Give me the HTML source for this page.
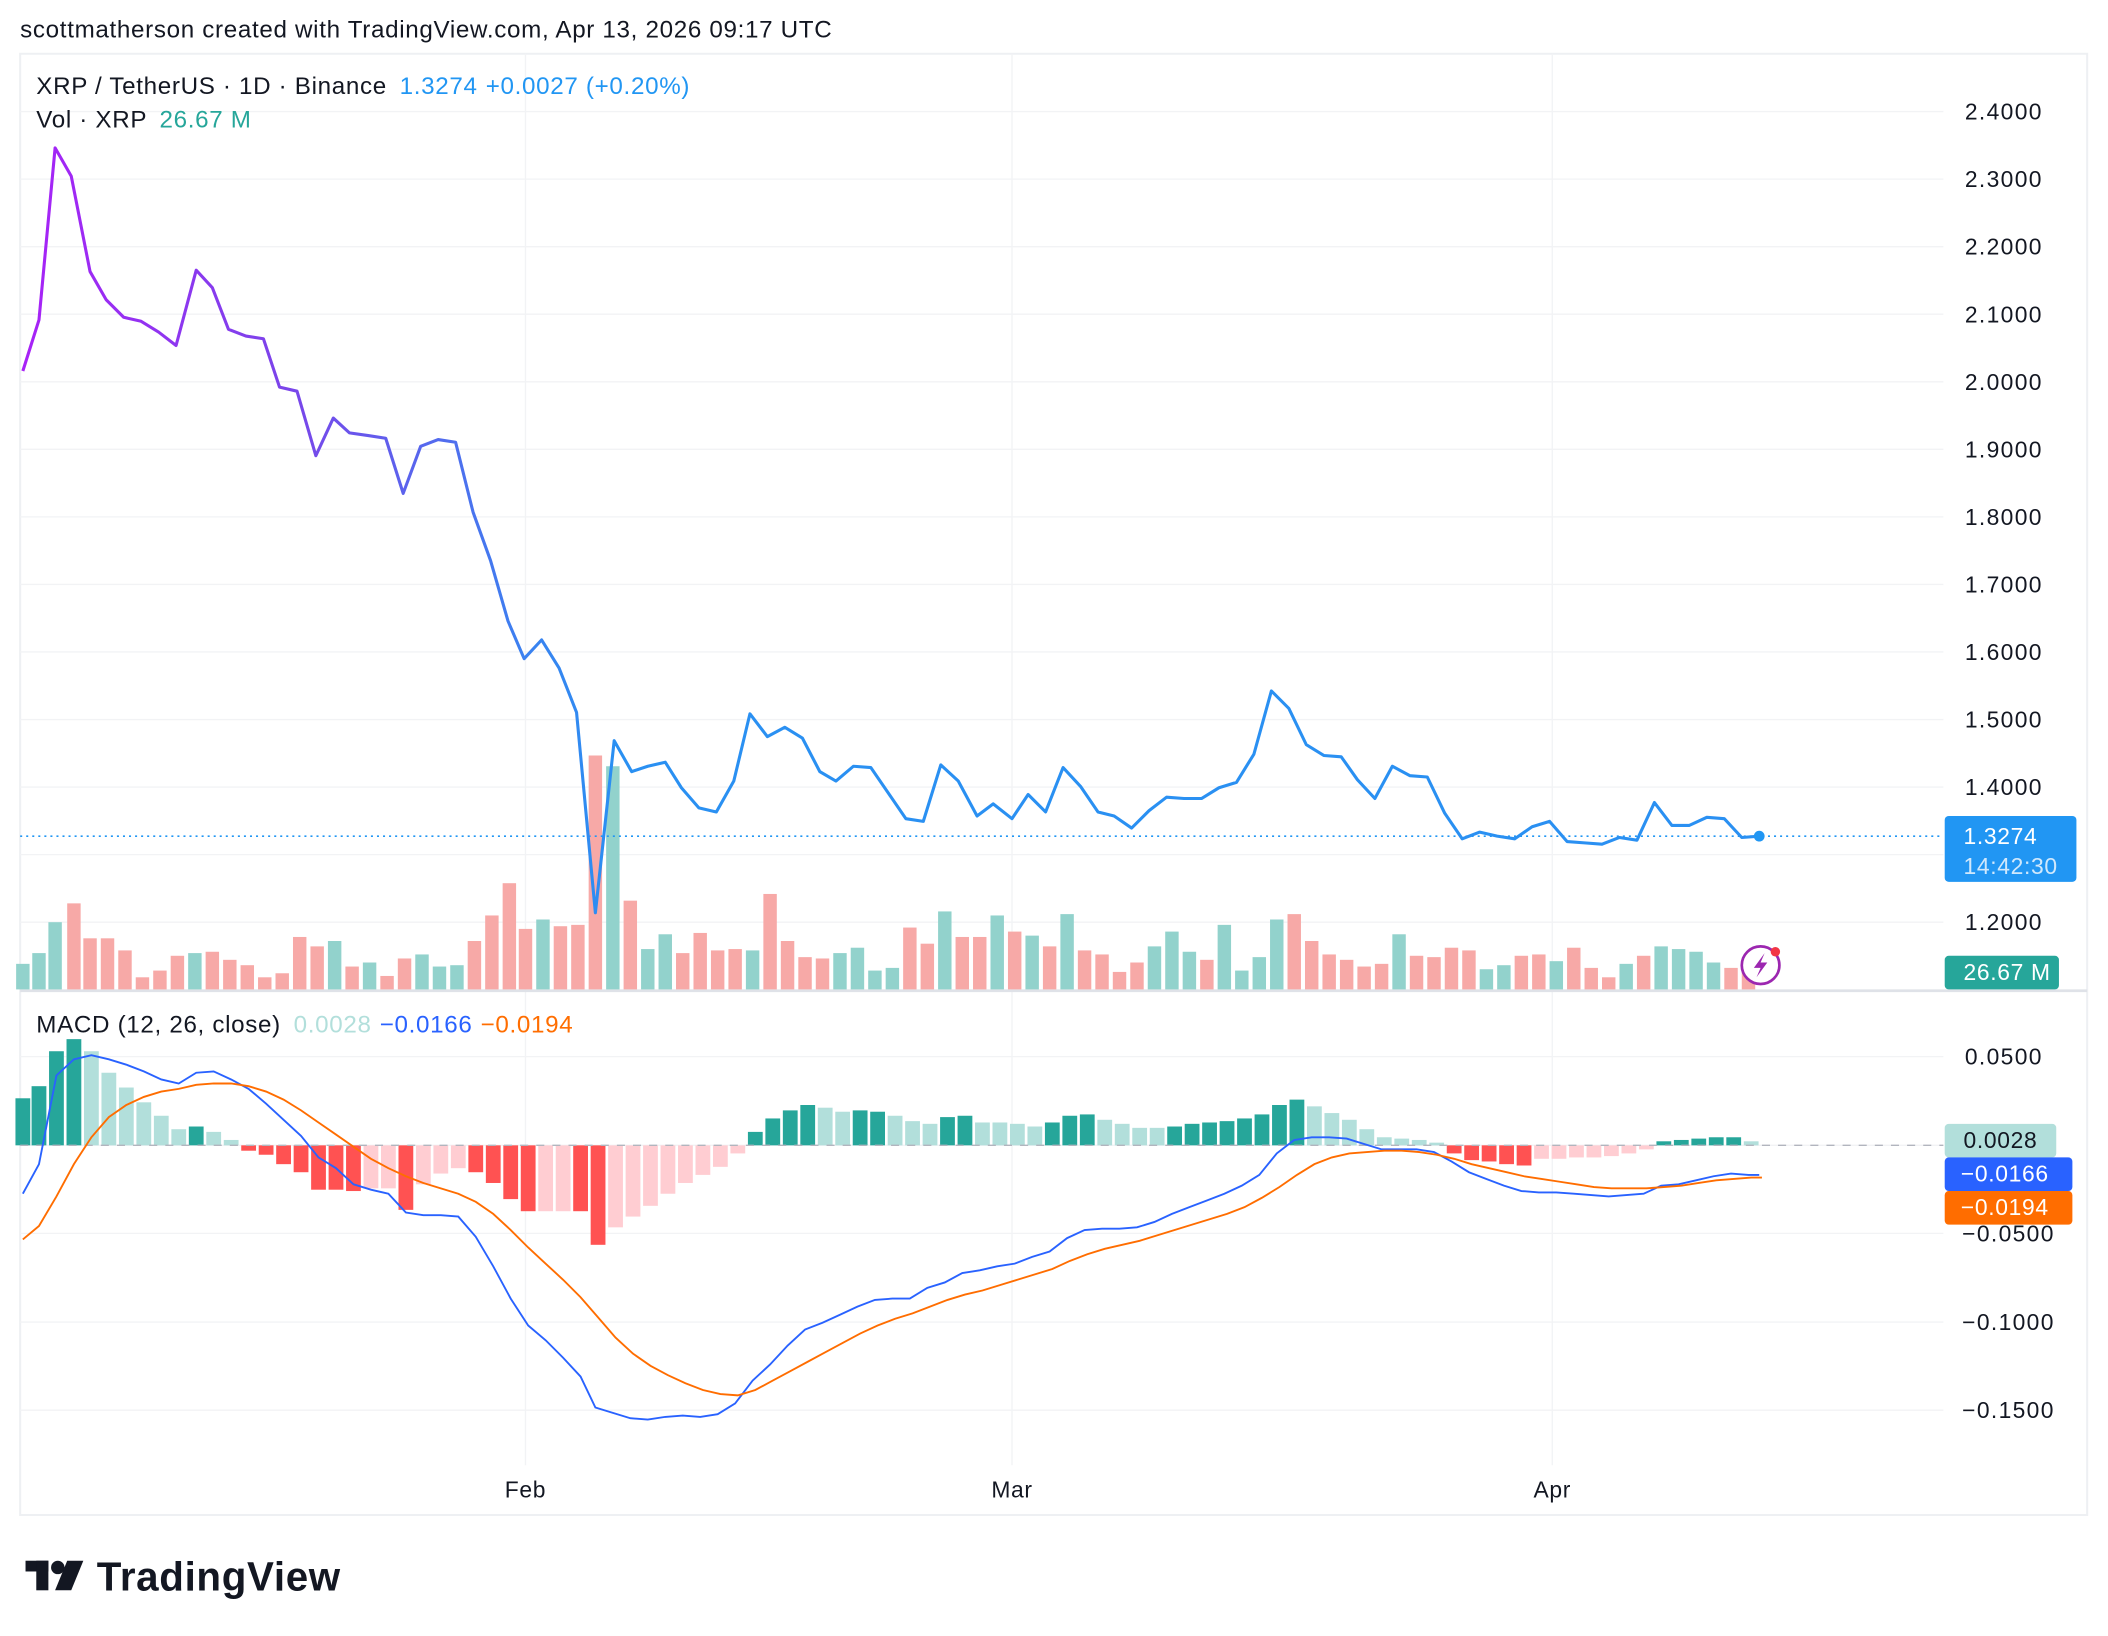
<!DOCTYPE html>
<html><head><meta charset="utf-8"><style>
html,body{margin:0;padding:0;background:#fff;}
svg{display:block;font-family:"Liberation Sans",sans-serif;}
text{letter-spacing:0.5px;}
#axis text{letter-spacing:1px;}
</style></head><body>
<svg id="s" width="2108" height="1636" viewBox="0 0 1568.5 1217" preserveAspectRatio="none" xmlns="http://www.w3.org/2000/svg">
<defs>
<linearGradient id="pg" gradientUnits="userSpaceOnUse" x1="17" y1="0" x2="460" y2="0">
<stop offset="0" stop-color="#a822f7"/><stop offset="0.45" stop-color="#7a45ea"/><stop offset="0.85" stop-color="#3a82f0"/><stop offset="1" stop-color="#2a90f2"/>
</linearGradient>
</defs>
<rect width="1568.5" height="1217" fill="#fff"/>
<text x="15" y="28" font-size="18" fill="#131722">scottmatherson created with TradingView.com, Apr 13, 2026 09:17 UTC</text>
<rect x="15" y="40" width="1538" height="1087" fill="none" stroke="#eef0f3" stroke-width="1.5"/>
<g id="grid" stroke="#f2f3f5" stroke-width="1"></g>
<line x1="15" y1="737" x2="1553" y2="737" stroke="#dfe2e8" stroke-width="2"/>
<g id="vol"></g>
<g id="hist"></g>
<line x1="15" y1="852" x2="1446" y2="852" stroke="#b2b5be" stroke-width="1" stroke-dasharray="6,6"/>
<line x1="15" y1="622" x2="1446" y2="622" stroke="#2196f3" stroke-width="1.2" stroke-dasharray="1.5,3"/>
<polyline id="price" fill="none" stroke="url(#pg)" stroke-width="2.3" stroke-linejoin="round"/>
<circle cx="1309" cy="622" r="4" fill="#2196f3"/>
<polyline id="macd" fill="none" stroke="#2962ff" stroke-width="1.4"/>
<polyline id="sig" fill="none" stroke="#ff6d00" stroke-width="1.4"/>
<g id="axis" font-size="17" fill="#131722"></g>
<text x="27" y="70" font-size="18" fill="#131722">XRP / TetherUS · 1D · Binance <tspan fill="#2196f3" dx="4">1.3274</tspan><tspan fill="#2196f3" dx="6">+0.0027 (+0.20%)</tspan></text>
<text x="27" y="95" font-size="18" fill="#131722">Vol · XRP <tspan fill="#26a69a" dx="4">26.67 M</tspan></text>
<text x="27" y="768" font-size="18" fill="#131722">MACD (12, 26, close) <tspan fill="#b2dfdb" dx="4">0.0028</tspan><tspan fill="#2962ff" dx="6">−0.0166</tspan><tspan fill="#ff6d00" dx="6">−0.0194</tspan></text>
<rect x="1447" y="607" width="98" height="49" rx="3" fill="#2196f3"/>
<text x="1461" y="628" font-size="17" fill="#fff" letter-spacing="1">1.3274</text>
<text x="1461" y="650" font-size="17" fill="#d0e8fc" letter-spacing="1">14:42:30</text>
<rect x="1447" y="711" width="85" height="25" rx="3" fill="#26a69a"/>
<text x="1461" y="729" font-size="17" fill="#fff" letter-spacing="1">26.67 M</text>
<rect x="1447" y="836" width="83" height="25" rx="3" fill="#b2dfdb"/>
<text x="1461" y="854" font-size="17" fill="#131722" letter-spacing="1">0.0028</text>
<rect x="1447" y="861" width="95" height="25" rx="3" fill="#2962ff"/>
<text x="1459" y="879" font-size="17" fill="#fff" letter-spacing="1">−0.0166</text>
<rect x="1447" y="886" width="95" height="25" rx="3" fill="#ff6d00"/>
<text x="1459" y="904" font-size="17" fill="#fff" letter-spacing="1">−0.0194</text>
<circle cx="1310" cy="718" r="14" fill="#fff" stroke="#9c27b0" stroke-width="2"/>
<path d="M1313 709 L1305 720 L1310 720 L1307 727 L1315 716 L1310 716 Z" fill="#9c27b0"/>
<circle cx="1321" cy="708" r="3.5" fill="#f23645"/>
<text x="391" y="1114" font-size="17" fill="#131722" text-anchor="middle">Feb</text>
<text x="753" y="1114" font-size="17" fill="#131722" text-anchor="middle">Mar</text>
<text x="1155" y="1114" font-size="17" fill="#131722" text-anchor="middle">Apr</text>
<g fill="#131722">
<rect x="19" y="1161" width="17" height="8"/><rect x="27" y="1161" width="9" height="22"/>
<circle cx="43" cy="1166" r="5"/>
<path d="M50 1161 L62 1161 L53 1183 L41 1183 Z"/>
</g>
<text x="72" y="1183" font-size="30" font-weight="bold" fill="#131722" letter-spacing="0.6">TradingView</text>
</svg>
<script>
var NS="http://www.w3.org/2000/svg";
function el(p,t,a){var e=document.createElementNS(NS,t);for(var k in a)e.setAttribute(k,a[k]);document.getElementById(p).appendChild(e);return e;}
var pl=["2.4000","2.3000","2.2000","2.1000","2.0000","1.9000","1.8000","1.7000","1.6000","1.5000","1.4000","1.3000","1.2000"];
for(var i=0;i<13;i++){var y=83+i*50.25;el("grid","line",{x1:15,x2:1446,y1:y,y2:y});if(i!=11){var t=el("axis","text",{x:1462,y:y+6});t.textContent=pl[i];}}
var ml=[["0.0500",786],["0",852],["−0.0500",917.5],["−0.1000",983.5],["−0.1500",1049]];
ml.forEach(function(m){el("grid","line",{x1:15,x2:1446,y1:m[1],y2:m[1]});if(m[0]!="0"){var t=el("axis","text",{x:1462-(m[0][0]=="−"?2:0),y:m[1]+6});t.textContent=m[0];}});
[391,753,1155].forEach(function(x){el("grid","line",{x1:x,x2:x,y1:40,y2:1090});});
var P="17,276 29,238 41,110 53,131 67,202 79,223 92,236 105,239 118,247 131,257 146,201 158,214 170,245 183,250 196,252 208,288 221,291 235,339 248,311 260,322 274,324 287,326 300,367 313,332 326,327 339,329 352,381 365,417 378,462 390,490 403,476 416,497 429,530 443,679 457,551 470,574 482,570 495,567 507,586 520,601 533,604 546,581 558,531 571,548 584,541 597,549 610,574 622,581 635,570 648,571 661,590 674,609 687,611 700,569 713,581 727,607 739,598 753,609 765,591 778,604 791,571 804,585 817,604 829,607 842,616 855,603 868,593 881,594 894,594 907,586 920,582 933,561 946,514 959,527 972,554 985,562 998,563 1010,580 1023,594 1036,570 1049,577 1062,578 1075,605 1088,624 1101,619 1114,622 1127,624 1140,615 1153,611 1166,626 1179,627 1192,628 1205,623 1218,625 1231,597 1244,614 1257,614 1270,608 1283,609 1296,623 1309,622";
document.getElementById("price").setAttribute("points",P);
var V="17 717 g,29 709 g,41 686 g,55 672 r,67 698 r,80 698 r,93 707 r,106 727 r,119 722 r,132 711 r,145 709 g,158 708 r,171 714 r,184 718 r,197 727 r,210 724 r,223 697 r,236 704 r,249 700 g,262 719 r,275 716 g,288 726 r,301 713 r,314 710 g,327 719 g,340 718 g,353 700 r,366 681 r,379 657 r,391 691 r,404 684 g,417 689 r,430 688 r,443 562 r,456 570 g,469 670 r,482 706 g,495 695 g,508 709 r,521 694 r,534 707 r,547 706 r,560 707 g,573 665 r,586 700 r,599 712 r,612 713 r,625 709 g,638 705 g,651 722 g,664 720 g,677 690 r,690 702 r,703 678 g,716 697 r,729 697 r,742 681 g,755 693 r,768 696 g,781 704 r,794 680 g,807 707 r,820 710 r,833 723 r,846 716 r,859 704 g,872 693 g,885 708 g,898 714 r,911 688 g,924 722 g,937 712 g,950 684 g,963 680 r,976 700 r,989 710 r,1002 714 r,1015 719 r,1028 717 r,1041 695 g,1054 711 r,1067 712 r,1080 705 r,1093 707 r,1106 721 g,1119 718 g,1132 711 r,1145 710 r,1158 715 g,1171 705 r,1184 720 r,1197 727 r,1210 717 g,1223 711 r,1236 704 g,1249 706 g,1262 708 g,1275 716 g,1288 720 r,1301 722 r";
V.split(",").forEach(function(s){var a=s.split(" ");var x=+a[0],y=+a[1];el("vol","rect",{x:x-5,y:y,width:10,height:736-y,fill:a[2]=="g"?"#92d2cc":"#f7a9a7"});});
var H="17 817 G,29 808 G,42 782 G,55 773 G,68 782 g,81 798 g,94 809 g,107 820 g,120 830 g,133 840 g,146 838 G,159 842 g,172 848 g,185 856 R,198 859 R,211 866 R,224 872 R,237 885 R,250 885 R,263 886 R,276 884 r,289 884 r,302 900 R,315 881 r,328 873 r,341 869 r,354 872 R,367 880 R,380 892 R,393 901 R,406 901 r,419 901 r,432 901 R,445 926 R,458 913 r,471 905 r,484 897 r,497 888 r,510 880 r,523 874 r,536 868 r,549 858 r,562 842 G,575 832 G,588 826 G,601 822 G,614 824 g,627 827 g,640 826 G,653 827 G,666 830 g,679 834 g,692 836 g,705 831 G,718 830 G,731 835 g,744 835 g,757 836 g,770 838 g,783 835 G,796 830 G,809 829 G,822 833 g,835 836 g,848 839 g,861 839 g,874 838 G,887 836 G,900 835 G,913 834 G,926 832 G,939 829 G,952 822 G,965 818 G,978 823 g,991 828 g,1004 833 g,1017 840 g,1030 846 g,1043 847 g,1056 848 g,1069 850 g,1082 858 R,1095 863 R,1108 864 R,1121 866 R,1134 867 R,1147 862 r,1160 862 r,1173 861 r,1186 861 r,1199 860 r,1212 858 r,1225 855 r,1238 849 G,1251 848 G,1264 847 G,1277 846 G,1290 846 G,1303 849 g";
var C={G:"#26a69a",g:"#b2dfdb",R:"#ff5252",r:"#ffcdd2"};
H.split(",").forEach(function(s){var a=s.split(" ");var x=+a[0],y=+a[1];var y0=Math.min(y,852),h=Math.abs(852-y);el("hist","rect",{x:x-5.5,y:y0,width:11,height:Math.max(h,1),fill:C[a[2]]});});
document.getElementById("macd").setAttribute("points","17,888 29,866 42,800 55,788 68,785 81,788 94,792 107,797 120,803 133,806 146,798 159,797 172,803 185,810 198,821 211,833 224,845 237,861 250,869 263,881 276,885 289,888 302,902 315,904 328,904 341,905 354,920 367,942 380,966 393,986 406,997 419,1010 432,1024 443,1047 456,1051 469,1055 482,1056 495,1054 508,1053 521,1054 534,1052 547,1044 560,1027 573,1015 586,1001 599,989 612,984 625,978 638,972 651,967 664,966 677,966 690,958 703,954 716,947 729,945 742,942 755,940 768,935 781,931 794,921 807,915 820,914 833,914 846,913 859,909 872,903 885,898 898,893 911,888 924,882 937,874 950,858 963,848 976,846 989,846 1002,847 1015,851 1028,855 1041,855 1054,855 1067,857 1080,864 1093,872 1106,877 1119,882 1132,886 1145,887 1158,887 1171,888 1184,889 1197,890 1210,889 1223,888 1236,882 1249,881 1262,878 1275,875 1288,873 1301,874 1309,874");
document.getElementById("sig").setAttribute("points","17,922 29,912 42,890 55,866 68,846 81,831 94,822 107,816 120,812 133,810 146,807 159,806 172,806 185,808 198,812 211,818 224,826 237,835 250,844 263,853 276,862 289,869 302,875 315,880 328,884 341,888 354,894 367,903 380,915 393,928 406,940 419,952 432,965 445,980 458,995 471,1007 484,1016 497,1023 510,1029 523,1034 536,1037 549,1038 562,1034 575,1027 588,1020 601,1013 614,1006 627,999 640,992 653,986 666,981 679,977 692,972 705,967 718,963 731,960 744,956 757,952 770,948 783,944 796,938 809,933 822,929 835,926 848,923 861,919 874,915 887,911 900,907 913,903 926,898 939,891 952,883 965,874 978,866 991,861 1004,858 1017,857 1030,856 1043,856 1056,857 1069,859 1082,862 1095,866 1108,869 1121,872 1134,875 1147,877 1160,879 1173,881 1186,883 1199,884 1212,884 1225,884 1238,883 1251,882 1264,880 1277,878 1290,877 1303,876 1311,876");
</script>
</body></html>
